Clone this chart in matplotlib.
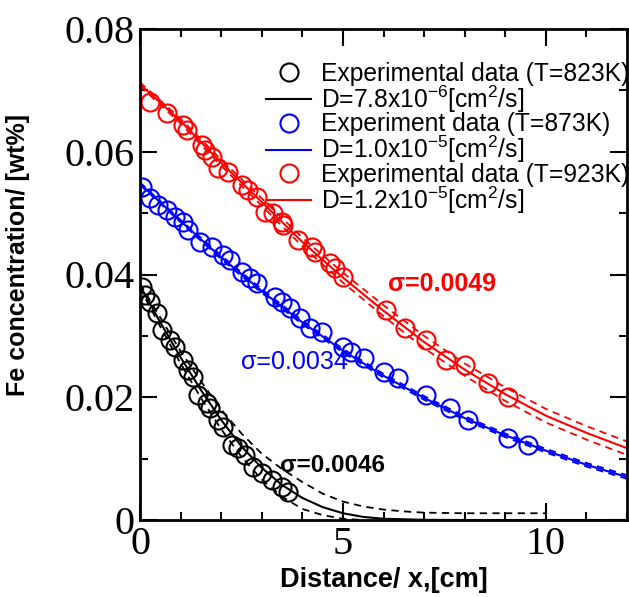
import matplotlib
matplotlib.use('Agg')
import numpy as np
from matplotlib import pyplot as plt
from matplotlib.ticker import MultipleLocator

# experimental points
x_823 = [0.05, 0.12, 0.25, 0.42, 0.54, 0.74, 0.86, 1.06, 1.19, 1.31, 1.43, 1.65,
         1.73, 1.93, 2.05, 2.27, 2.42, 2.59, 2.79, 3.01, 3.26, 3.51, 3.65]
c_823 = [0.0380, 0.0367, 0.0355, 0.0337, 0.0310, 0.0293, 0.0282, 0.0261, 0.0244, 0.0233, 0.0204, 0.0191,
         0.0182, 0.0163, 0.0152, 0.0122, 0.0117, 0.0106, 0.0086, 0.0077, 0.0065, 0.0054, 0.0046]

x_873 = [0.05, 0.25, 0.44, 0.67, 0.86, 1.06, 1.19, 1.48, 1.78, 2.05, 2.22, 2.52, 2.72, 2.89, 3.33,
         3.51, 3.70, 3.95, 4.20, 4.49, 5.01, 5.19, 5.51, 6.00, 6.35, 7.04, 7.65, 8.07, 9.06, 9.56]
c_873 = [0.0543, 0.0525, 0.0513, 0.0505, 0.0494, 0.0486, 0.0473, 0.0453, 0.0445, 0.0432, 0.0424, 0.0404,
         0.0394, 0.0386, 0.0363, 0.0355, 0.0345, 0.0329, 0.0313, 0.0306, 0.0282, 0.0274, 0.0264, 0.0241,
         0.0231, 0.0204, 0.0182, 0.0163, 0.0134, 0.0122]

x_923 = [0.25, 0.67, 1.06, 1.16, 1.53, 1.60, 1.78, 1.93, 2.17, 2.52, 2.67, 2.89, 3.09, 3.28, 3.51,
         3.53, 3.90, 4.25, 4.32, 4.69, 4.81, 5.01, 6.05, 6.54, 7.04, 7.53, 8.02, 8.57, 9.06]
c_923 = [0.0681, 0.0663, 0.0644, 0.0635, 0.0611, 0.0603, 0.0591, 0.0574, 0.0567, 0.0546, 0.0538, 0.0526,
         0.0502, 0.0500, 0.0486, 0.0481, 0.0456, 0.0445, 0.0437, 0.0419, 0.0411, 0.0396, 0.0342, 0.0313,
         0.0293, 0.0261, 0.0253, 0.0223, 0.0200]

# fitted curves and dashed bounds
xf_823 = [0, 0.5, 1, 1.5, 2, 2.5, 3, 3.5, 4, 4.5, 5, 5.5, 6, 7, 8, 9, 10, 11, 12]
f_823 = [0.0382, 0.0322, 0.0265, 0.0212, 0.0163, 0.0120, 0.0085, 0.0057, 0.0036, 0.0021,
         0.0011, 0.0005, 0.0002, 0.00003, 0, 0, 0, 0, 0]
xu_823 = [0, 0.5, 1, 1.5, 2, 2.5, 3, 3.5, 4, 4.5, 5, 5.5, 6, 6.5, 7, 8, 9, 10]
up_823 = [0.0385, 0.0330, 0.0275, 0.0226, 0.0180, 0.0141, 0.0108, 0.0083, 0.0062, 0.0043,
          0.0030, 0.0022, 0.0017, 0.0014, 0.0012, 0.0011, 0.0011, 0.0011]
xl_823 = [0, 0.5, 1, 1.5, 2, 2.5, 3, 3.5, 4, 4.5, 5, 5.5]
lo_823 = [0.0378, 0.0315, 0.0255, 0.0199, 0.0148, 0.0103, 0.0066, 0.0038, 0.0018, 0.0008, 0.0002, 0.0]

xf = [0, 1, 2, 3, 4, 5, 6, 7, 8, 9, 10, 11, 12]
f_873 = [0.0548, 0.0487, 0.0428, 0.0373, 0.0322, 0.0276, 0.0235, 0.0199, 0.0166, 0.0138, 0.0113, 0.0090, 0.0070]
w_873 = [0.0002, 0.0002, 0.0003, 0.0003, 0.0003, 0.0003, 0.0003, 0.0003, 0.0003, 0.0003, 0.0003, 0.0003, 0.0003]
f_923 = [0.0710, 0.0650, 0.0582, 0.0518, 0.0453, 0.0395, 0.0341, 0.0290, 0.0245, 0.0205, 0.0170, 0.0142, 0.0117]
w_923 = [0.0003, 0.0004, 0.0005, 0.0006, 0.0007, 0.0008, 0.0009, 0.0010, 0.0010, 0.0011, 0.0011, 0.0011, 0.0011]

labels = ['Experimental data (T=823K)', 'D=7.8x10$^{-6}$[cm$^{2}$/s]',
          'Experiment data (T=873K)', 'D=1.0x10$^{-5}$[cm$^{2}$/s]',
          'Experimental data (T=923K)', 'D=1.2x10$^{-5}$[cm$^{2}$/s]']

plt.rcParams['font.family'] = ['Liberation Sans', 'DejaVu Sans']
plt.rcParams['mathtext.fontset'] = 'custom'
plt.rcParams['mathtext.rm'] = 'Liberation Sans'

fig = plt.figure(figsize=(6.29, 5.97), dpi=100)
ax = fig.add_axes([140/629, 1-520/597, 487/629, 491/597])

dash = (0, (4, 3))
mk = dict(marker='o', ls='none', ms=13, mfc='none', mew=1.5)

# dashed bounds
ax.plot(xu_823, up_823, color='k', ls=dash, lw=1.3)
ax.plot(xl_823, lo_823, color='k', ls=dash, lw=1.3)
for f, w, c in [(f_873, w_873, 'blue'), (f_923, w_923, 'red')]:
    f = np.array(f); w = np.array(w)
    ax.plot(xf, f + w, color=c, ls=dash, lw=1.3)
    ax.plot(xf, f - w, color=c, ls=dash, lw=1.3)

h1, = ax.plot(x_823, c_823, mec='k', **mk)
l1, = ax.plot(xf_823, f_823, color='k', lw=1.5)
h2, = ax.plot(x_873, c_873, mec='blue', **mk)
l2, = ax.plot(xf, f_873, color='blue', lw=1.5)
h3, = ax.plot(x_923, c_923, mec='red', **mk)
l3, = ax.plot(xf, f_923, color='red', lw=1.5)

leg = ax.legend([h1, l1, h2, l2, h3, l3], labels, loc='upper right', bbox_to_anchor=(1.005, 0.933),
                frameon=False, fontsize=17.7, labelspacing=-0.1, handlelength=1.85,
                handletextpad=0.4, borderaxespad=0, borderpad=0)

ax.text(6.1, 0.0385, 'σ=0.0049', color='red', fontsize=18, fontweight='bold', va='center')
ax.text(2.5, 0.0258, 'σ=0.0034', color='blue', fontsize=18, va='center')
ax.text(3.45, 0.0088, 'σ=0.0046', color='k', fontsize=17.5, fontweight='bold', va='center')

ax.set_xlim(0, 12)
ax.set_ylim(0, 0.08)
ax.xaxis.set_major_locator(MultipleLocator(5))
ax.xaxis.set_minor_locator(MultipleLocator(1))
ax.yaxis.set_major_locator(MultipleLocator(0.02))
ax.yaxis.set_minor_locator(MultipleLocator(0.01))
ax.set_yticks([0, 0.02, 0.04, 0.06, 0.08], ['0', '0.02', '0.04', '0.06', '0.08'])
ax.tick_params(which='both', direction='in', top=True, right=True, width=1.5)
ax.tick_params(which='major', length=12, pad=4)
ax.tick_params(which='minor', length=6)
for t in ax.get_xticklabels() + ax.get_yticklabels():
    t.set_fontfamily('Liberation Serif')
    t.set_fontsize(29)
for s in ax.spines.values():
    s.set_linewidth(2)

ax.set_xlabel('Distance/ x,[cm]', fontsize=19.5, fontweight='bold', labelpad=3)
ax.set_ylabel('Fe concentration/ [wt%]', fontsize=18, fontweight='bold')
ax.yaxis.set_label_coords(-0.225, 0.54)

fig.savefig('out.png', dpi=100)
